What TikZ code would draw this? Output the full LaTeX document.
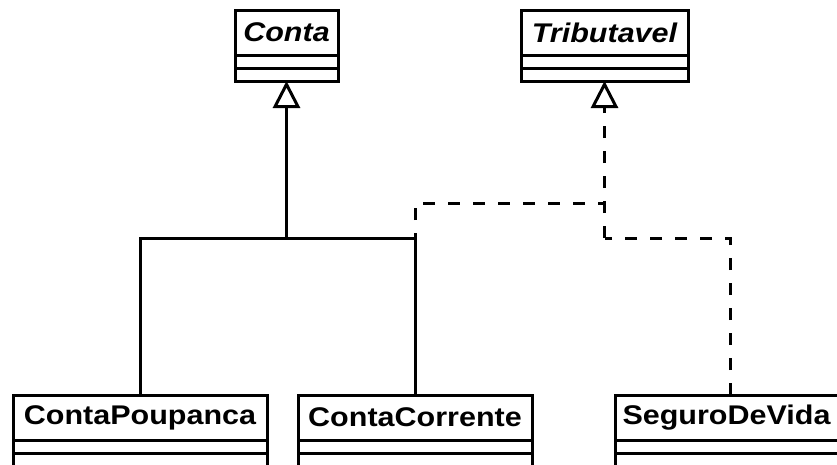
\documentclass[tikz,border=0pt]{standalone}
\usepackage{fontspec}
\setmainfont{Liberation Sans}
\newfontfamily\umlfont[FakeStretch=1.13]{Liberation Sans}
\usetikzlibrary{arrows.meta}
\tikzset{
  x=1pt, y=1pt,
  umltitle/.style={draw, line width=3pt, rectangle, inner sep=0pt, outer sep=0pt, anchor=north west,
    minimum height=45pt, font=\umlfont\fontsize{27}{30}\selectfont\bfseries},
  umlcomp/.style={draw, line width=3pt, rectangle, inner sep=0pt, outer sep=0pt, anchor=north,
    minimum height=13pt},
  solidlink/.style={line width=3pt},
  dashedlink/.style={line width=3pt, dash pattern=on 12pt off 13pt},
  realize/.style={-{Triangle[open, length=27pt, width=27pt]}}
}
\begin{document}
\begin{tikzpicture}
\clip (0,0) rectangle (837,-464);
\fill[white] (0,0) rectangle (837,-464);
% top classes
\node[umltitle, minimum width=103pt] (conta) at (235,-10) {\itshape Conta};
\node[umlcomp, minimum width=103pt] (contaA) at (conta.south) {};
\node[umlcomp, minimum width=103pt] (contaB) at (contaA.south) {};
\node[umltitle, minimum width=167pt] (trib) at (521,-10) {\itshape Tributavel};
\node[umlcomp, minimum width=167pt] (tribA) at (trib.south) {};
\node[umlcomp, minimum width=167pt] (tribB) at (tribA.south) {};
% bottom classes
\node[umltitle, minimum width=254pt] (cp) at (13,-395) {ContaPoupanca};
\node[umlcomp, minimum width=254pt] (cpA) at (cp.south) {};
\node[umlcomp, minimum width=254pt] (cpB) at (cpA.south) {};
\node[umltitle, minimum width=234pt] (cc) at (298,-395) {ContaCorrente};
\node[umlcomp, minimum width=234pt] (ccA) at (cc.south) {};
\node[umlcomp, minimum width=234pt] (ccB) at (ccA.south) {};
\node[umltitle, minimum width=230pt] (sv) at (615,-395) {\hspace*{-7pt}SeguroDeVida};
\node[umlcomp, minimum width=230pt] (svA) at (sv.south) {};
\node[umlcomp, minimum width=230pt] (svB) at (svA.south) {};
% junctions
\coordinate (j1) at (contaB.south |- 0,-238);
\coordinate (j2) at (tribB.south |- 0,-238);
\coordinate (j3) at (tribB.south |- 0,-203);
% generalization (solid)
\draw[solidlink] (cp.north) |- (j1);
\draw[solidlink] (cc.north) |- (j1);
\draw[solidlink, realize] (j1) -- (contaB.south);
% realization (dashed)
\draw[dashedlink] (cc.north) |- (j3);
\draw[dashedlink] (sv.north) |- (j2);
\draw[dashedlink, realize] (j2) -- (tribB.south);
\end{tikzpicture}
\end{document}
